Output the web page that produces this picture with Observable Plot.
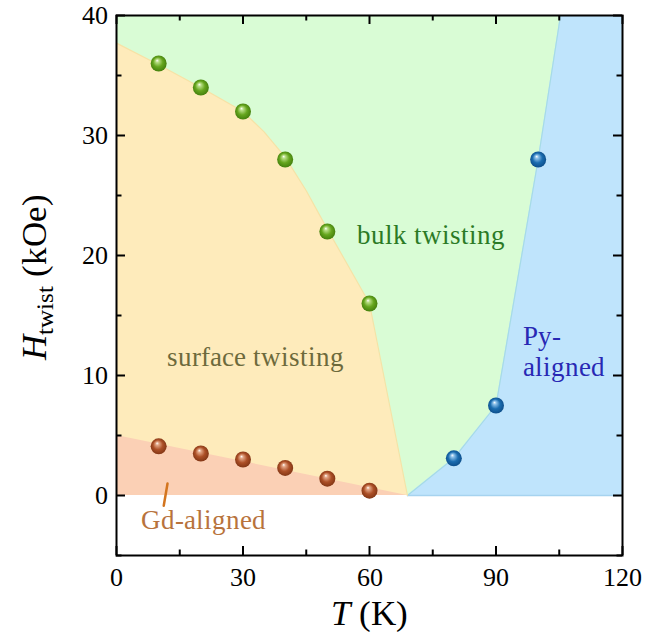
<!DOCTYPE html>
<html><head><meta charset="utf-8">
<style>
@font-face{font-family:"RefSerif";font-style:normal;font-weight:400;src:local("Liberation Serif"),local("LiberationSerif"),local("LiberationSerif-Regular"),local("Liberation Serif Regular");}
@font-face{font-family:"RefSerif";font-style:italic;font-weight:400;src:local("Liberation Serif Italic"),local("LiberationSerif-Italic");}
body{margin:0;background:#fff;font-family:RefSerif,'Liberation Serif',serif}
svg{display:block}
</style>
<script src="https://cdn.jsdelivr.net/npm/d3@7"></script>
<script src="https://cdn.jsdelivr.net/npm/@observablehq/plot@0.6"></script>
</head><body>
<div id="chart"></div>
<script>
// measured points
const surfaceT = [10, 20, 30, 40, 50, 60];
const surfaceH = [36, 34, 32, 28, 22, 16];
const gdT = [10, 20, 30, 40, 50, 60];
const gdH = [4.1, 3.5, 3.0, 2.3, 1.4, 0.4];
const pyT = [80, 90, 100];
const pyH = [3.1, 7.5, 28];
// region boundaries
const surfBoundT = [0, 10, 20, 30, 35, 40, 45, 50, 55, 60, 69];
const surfBoundH = [37.7, 35.9, 34, 32, 30.3, 28.2, 25.4, 22.2, 19.1, 16, 0];
const gdBoundT = [0, 69];
const gdBoundH = [5, 0];
const pyBoundT = [69, 80, 90, 100, 105.3];
const pyBoundH = [0, 3.1, 7.5, 28, 40];
const bulkT = [0, 120];
const bulkH = [40, 40];
// ticks
const xTicks = [0, 30, 60, 90, 120];
const xMinor = [15, 45, 75, 105];
const yTicks = [0, 10, 20, 30, 40];
const yMinor = [-5, 5, 15, 25, 35];
// region labels
const labelText = ["bulk twisting", "surface twisting", "Py-", "aligned", "Gd-aligned"];
const labelT = [74.7, 33, 96.5, 96.5, 5.9];
const labelH = [21.7, 11.5, 13.3, 10.7, -2.1];
const labelColor = ["#2b7a25", "#6d6a3c", "#2828b4", "#2828b4", "#b8733c"];
const labelAnchor = ["middle", "middle", "start", "start", "start"];
const pointerT = [12.1, 11.2];
const pointerH = [1.0, -0.85];

const zip = (a, b) => a.map((v, i) => ({t: v, h: b[i]}));
const W = 668, H = 641, mL = 116, mR = 46, mT = 15, mB = 86;
const iw = W - mL - mR, ih = H - mT - mB;
const font = "RefSerif, Liberation Serif, serif";
const labels = labelText.map((s, i) => ({s, t: labelT[i], h: labelH[i], c: labelColor[i], a: labelAnchor[i]}));

const chart = Plot.plot({
  width: W, height: H,
  marginLeft: mL, marginRight: mR, marginTop: mT, marginBottom: mB,
  style: {fontFamily: font, background: "white"},
  x: {domain: [0, 120], label: null},
  y: {domain: [-5, 40], label: null},
  marks: [
    Plot.areaY(zip(bulkT, bulkH), {x: "t", y1: 0, y2: "h", fill: "#d9fcd5"}),
    Plot.areaX(zip(pyBoundT, pyBoundH), {y: "h", x1: "t", x2: 120, fill: "#bfe4fc"}),
    Plot.lineY(zip(pyBoundT, pyBoundH), {x: "t", y: "h", stroke: "#a6dbe6", strokeWidth: 1.2}),
    Plot.ruleY([0], {x1: 69, x2: 120, stroke: "#a6d3ef", strokeWidth: 1.5}),
    Plot.areaY(zip(surfBoundT, surfBoundH), {x: "t", y1: 0, y2: "h", fill: "#feebbb"}),
    Plot.lineY(zip(surfBoundT, surfBoundH), {x: "t", y: "h", stroke: "#f6e2a6", strokeWidth: 1.2}),
    Plot.areaY(zip(gdBoundT, gdBoundH), {x: "t", y1: 0, y2: "h", fill: "#fbd0b5"}),
    Plot.ruleX(xTicks, {x: d => d, insetTop: ih - 9, stroke: "black", strokeWidth: 2}),
    Plot.ruleX(xTicks, {x: d => d, insetBottom: ih - 9, stroke: "black", strokeWidth: 2}),
    Plot.ruleX(xMinor, {x: d => d, insetTop: ih - 5.5, stroke: "black", strokeWidth: 2}),
    Plot.ruleX(xMinor, {x: d => d, insetBottom: ih - 5.5, stroke: "black", strokeWidth: 2}),
    Plot.ruleY(yTicks, {y: d => d, insetRight: iw - 9, stroke: "black", strokeWidth: 2}),
    Plot.ruleY(yTicks, {y: d => d, insetLeft: iw - 9, stroke: "black", strokeWidth: 2}),
    Plot.ruleY(yMinor, {y: d => d, insetRight: iw - 5.5, stroke: "black", strokeWidth: 2}),
    Plot.ruleY(yMinor, {y: d => d, insetLeft: iw - 5.5, stroke: "black", strokeWidth: 2}),
    Plot.line(zip(pointerT, pointerH), {x: "t", y: "h", stroke: "#d3751f", strokeWidth: 2.5}),
    Plot.text(labels.filter(d => d.a === "middle"), {x: "t", y: "h", text: "s", fill: "c", fontSize: 27, textAnchor: "middle", fontFamily: font}),
    Plot.text(labels.filter(d => d.a === "start"), {x: "t", y: "h", text: "s", fill: "c", fontSize: 27, textAnchor: "start", fontFamily: font}),
    Plot.dot(zip(surfaceT, surfaceH), {x: "t", y: "h", r: 8, fill: "url(#gGreen)"}),
    Plot.dot(zip(gdT, gdH), {x: "t", y: "h", r: 8, fill: "url(#gBrown)"}),
    Plot.dot(zip(pyT, pyH), {x: "t", y: "h", r: 8, fill: "url(#gBlue)"}),
    Plot.frame({stroke: "black", strokeWidth: 2}),
    Plot.axisX({ticks: xTicks, tickSize: 0, tickPadding: 12, fontSize: 26, fontFamily: font, fill: "black"}),
    Plot.axisY({ticks: yTicks, tickSize: 0, tickPadding: 9, fontSize: 26, fontFamily: font, fill: "black"})
  ]
});

const svg = d3.select(chart);
svg.attr("font-family", font);
const defs = svg.insert("defs", ":first-child");
function grad(id, c1, c2, c3) {
  const g = defs.append("radialGradient").attr("id", id)
    .attr("cx", "50%").attr("cy", "50%").attr("r", "55%").attr("fx", "40%").attr("fy", "30%");
  g.append("stop").attr("offset", "0%").attr("stop-color", "#ffffff");
  g.append("stop").attr("offset", "18%").attr("stop-color", c1);
  g.append("stop").attr("offset", "55%").attr("stop-color", c2);
  g.append("stop").attr("offset", "100%").attr("stop-color", c3);
}
grad("gGreen", "#b9de86", "#66a61e", "#3f7a0a");
grad("gBrown", "#e3a787", "#ad5027", "#7c3212");
grad("gBlue", "#8fc2ea", "#1b6db0", "#0b4a85");

const xl = svg.append("text").attr("x", mL + iw / 2).attr("y", 625)
  .attr("text-anchor", "middle").attr("font-size", 35).attr("fill", "black");
xl.append("tspan").attr("font-style", "italic").text("T");
xl.append("tspan").text(" (K)");

const yl = svg.append("text").attr("transform", `translate(46,${mT + ih / 2 - 8}) rotate(-90)`)
  .attr("text-anchor", "middle").attr("font-size", 35).attr("fill", "black");
yl.append("tspan").attr("font-style", "italic").text("H");
yl.append("tspan").attr("font-size", 25).attr("dy", 7).text("twist");
yl.append("tspan").attr("dy", -7).text(" (kOe)");

chart.querySelectorAll("text, tspan").forEach(el => el.setAttribute("font-family", font));

document.getElementById("chart").appendChild(chart);
</script>
</body></html>
